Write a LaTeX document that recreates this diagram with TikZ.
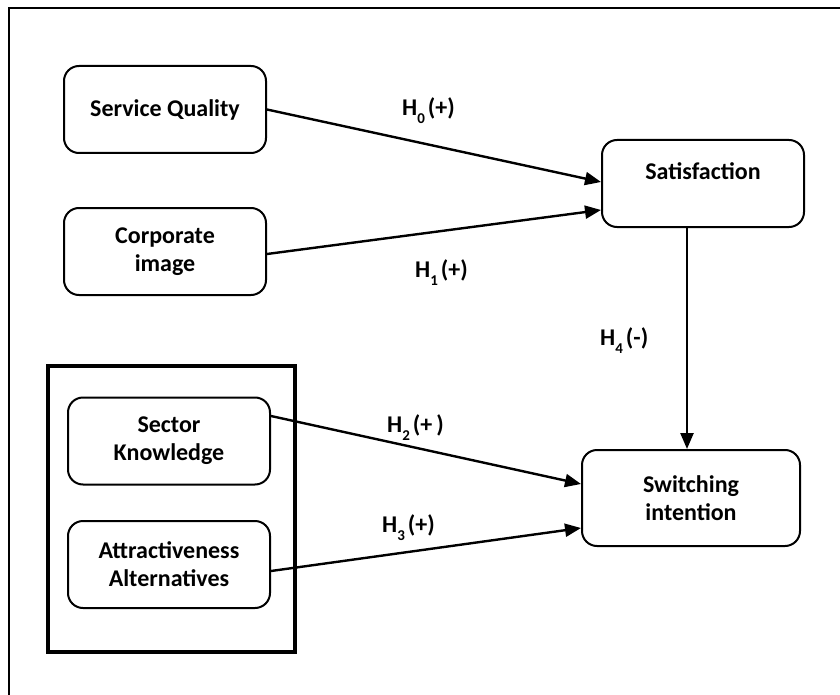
\documentclass[tikz,border=0pt]{standalone}
\usepackage{fontspec}
\setmainfont{Carlito}
\usetikzlibrary{arrows.meta}
\tikzset{
  framebox/.style={draw, line width=2pt, rounded corners=15pt, minimum width=202pt,
    minimum height=87pt, align=center, inner sep=2pt, font=\bfseries\fontsize{24}{28}\selectfont},
  link/.style={line width=2.4pt, -{Triangle[length=16pt,width=13pt]}},
  hlabel/.style={inner sep=0pt, anchor=base west, font=\bfseries\fontsize{24}{28}\selectfont}
}
% hypothesis label: H with a deeply lowered index, then the sign in brackets
\newcommand{\hyp}[2]{H\raisebox{-8pt}{\fontsize{15}{15}\selectfont #1}\hspace{3pt}(#2)}
\begin{document}
\begin{tikzpicture}[x=1pt,y=-1pt]
  \useasboundingbox (0,0) rectangle (840,695);
  \clip (0,0) rectangle (840,695);
  % outer frame (only the top and left edges fall inside the page)
  \draw[line width=2pt] (9,720) -- (9,8.5) -- (860,8.5);
  % group around the two exogenous constructs
  \draw[line width=4pt] (48,366) rectangle (295,652);

  \node[framebox] (sq) at (165,109.5) {Service Quality};
  \node[framebox] (ci) at (165,251.5) {Corporate\\image};
  \node[framebox] (sat) at (703,183.5) {Satisfaction\\[-12pt]\strut};
  \node[framebox] (sk) at (169,441) {Sector\\Knowledge};
  \node[framebox] (aa) at (169,564.5) {Attractiveness\\Alternatives};
  \node[framebox, minimum width=218pt, minimum height=96pt] (sw) at (691,498) {Switching\\intention};

  \draw[link] (sq.east) -- ([yshift=1.5pt]sat.west);
  \draw[link] ([yshift=-2.5pt]ci.east) -- ([yshift=-26.5pt]sat.west);
  \draw[link] ([xshift=-16pt]sat.south) -- ([xshift=-16pt]sat.south |- sw.north);
  \draw[link] ([yshift=25pt]sk.east) -- ([yshift=14pt]sw.west);
  \draw[link] ([yshift=-6.5pt]aa.east) -- ([yshift=-30pt]sw.west);

  \node[hlabel] (h0) at (402,116) {\hyp{0}{+}};
  \node[hlabel] (h1) at (415,277) {\hyp{1}{+}};
  \node[hlabel] (h4) at (600,345) {\hyp{4}{-}};
  \node[hlabel] (h2) at (387,432) {\hyp{2}{+\,}};
  \node[hlabel] (h3) at (382,532) {\hyp{3}{+}};
\end{tikzpicture}
\end{document}
